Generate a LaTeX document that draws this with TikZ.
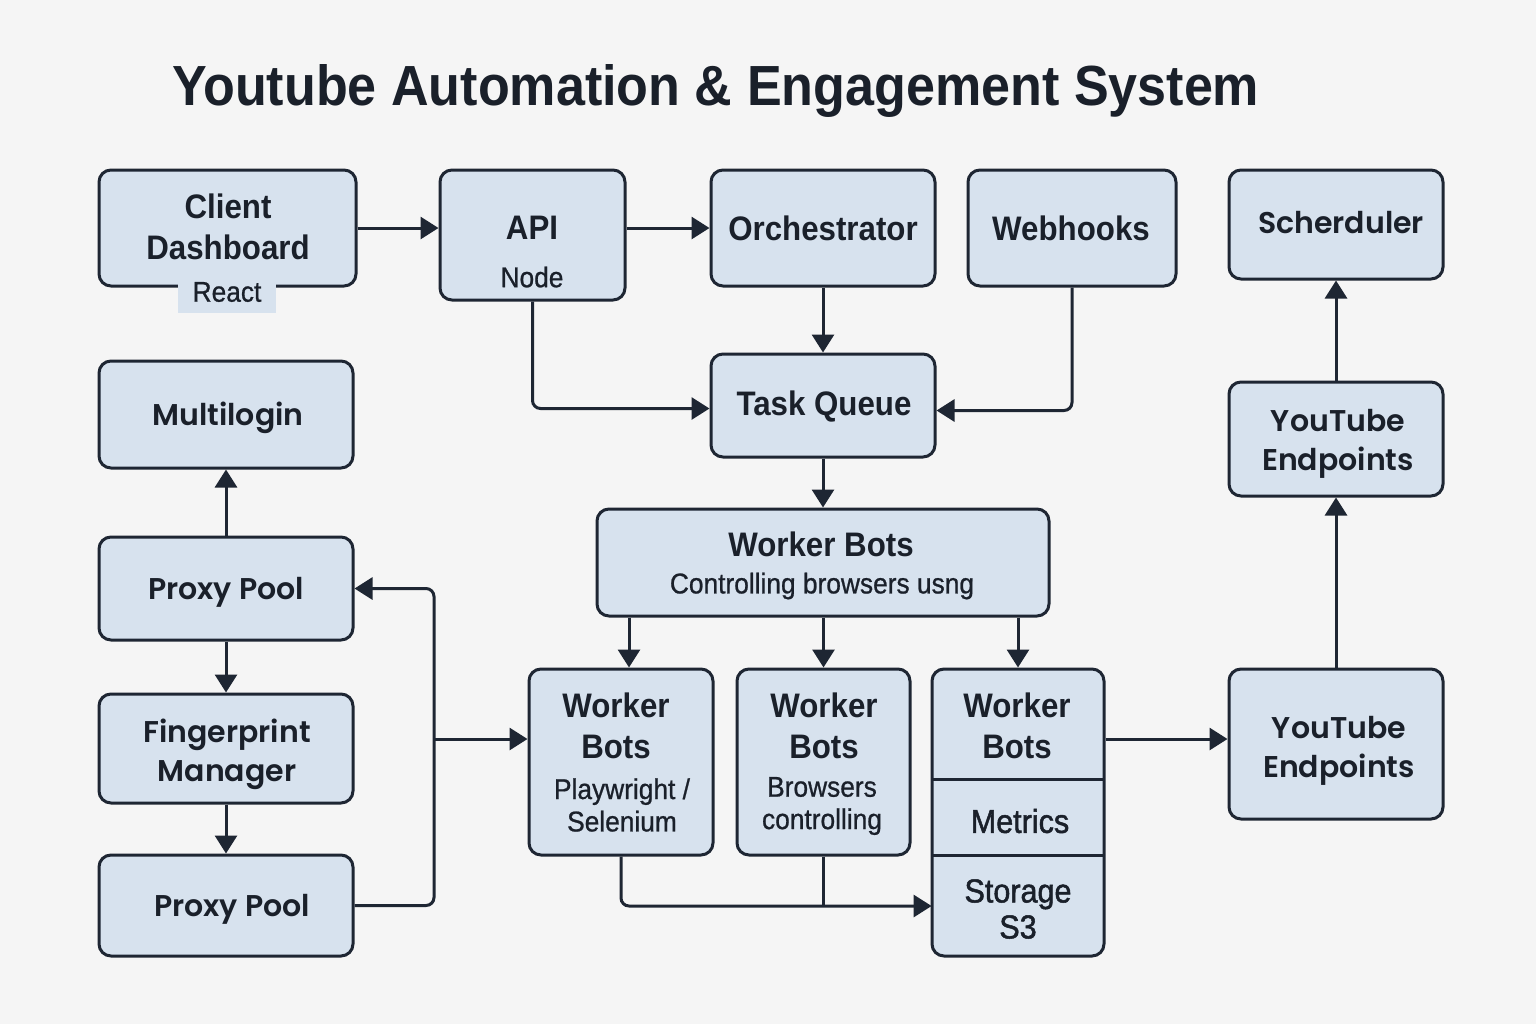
\documentclass[tikz,border=0pt]{standalone}
\usepackage{fontspec}
\usetikzlibrary{arrows.meta,fit,calc}
\newfontfamily\lib{Liberation Sans}[FakeStretch=0.92]
\newfontfamily\pop{Poppins}[BoldFont={Poppins SemiBold}]
\definecolor{bg}{HTML}{F5F5F5}
\definecolor{boxfill}{HTML}{D7E2EE}
\definecolor{edge}{HTML}{1E2633}
\definecolor{ink}{HTML}{1A202A}
\tikzset{
  box/.style={draw=edge, fill=boxfill, line width=1.5pt, rounded corners=6pt, inner sep=0pt},
  arr/.style={draw=edge, line width=1.5pt, -{Triangle[length=9pt,width=11pt]}, rounded corners=4pt},
  ln/.style={draw=edge, line width=1.5pt, rounded corners=4pt},
  lab/.style={font=\lib\bfseries\fontsize{17}{20.5}\selectfont, text=ink, align=center, inner sep=0pt},
  sub/.style={font=\lib\fontsize{14.3}{16.2}\selectfont\addfontfeature{FakeBold=0.8}, text=ink, align=center, inner sep=0pt},
  met/.style={font=\lib\fontsize{16.6}{18}\selectfont\addfontfeature{FakeBold=1.5}, text=ink, align=center, inner sep=0pt},
  plab/.style={font=\pop\bfseries\fontsize{15}{19.5}\selectfont, text=ink, align=center, inner sep=0pt},
}
\begin{document}
\begin{tikzpicture}[x=0.5pt,y=-0.5pt]
\fill[bg] (0,0) rectangle (1536,1024);
\useasboundingbox (0,0) rectangle (1536,1024);

% title
\node[font=\lib\bfseries\fontsize{28.3}{32}\selectfont, text=ink, inner sep=0pt, anchor=base west] (title) at (172,105) {Youtube Automation \& Engagement System};

% boxes
\node[box, fit={(99,170) (356,286)}] (client) {};
\node[fill=boxfill, inner sep=0pt, fit={(178,281) (276,313)}] (reacttab) {};
\node[box, fit={(440,170) (625,300)}] (api) {};
\node[box, fit={(711,170) (935,286)}] (orch) {};
\node[box, fit={(968,170) (1176,286)}] (web) {};
\node[box, fit={(1229,170) (1443,279)}] (sched) {};
\node[box, fit={(711,354) (935,457)}] (tq) {};
\node[box, fit={(597,509) (1049,616)}] (wbm) {};
\node[box, fit={(529,669) (713,855)}] (wb1) {};
\node[box, fit={(737,669) (910,855)}] (wb2) {};
\node[box, fit={(932,669) (1104,956)}] (wb3) {};
\node[inner sep=0pt, fit={(932,669) (1104,780)}] (wb3top) {};
\node[inner sep=0pt, fit={(932,780) (1104,856)}] (metrics) {};
\node[inner sep=0pt, fit={(932,856) (1104,956)}] (storage) {};
\draw[edge, line width=1.5pt] (metrics.north west) -- (metrics.north east);
\draw[edge, line width=1.5pt] (storage.north west) -- (storage.north east);
\node[box, fit={(1229,669) (1443,819)}] (yt2) {};
\node[box, fit={(1229,382) (1443,496)}] (yt1) {};
\node[box, fit={(99,361) (353,468)}] (ml) {};
\node[box, fit={(99,537) (353,640)}] (pp1) {};
\node[box, fit={(99,694) (353,803)}] (fm) {};
\node[box, fit={(99,855) (353,956)}] (pp2) {};

% texts
\node[lab] (tclient) at (228,227) {Client\\Dashboard};
\node[sub] (treact) at (227,292) {React};
\node[lab] (tapi) at (532,228) {API};
\node[sub] (tnode) at (532,277) {Node};
\node[lab] (torch) at (823,228) {Orchestrator};
\node[lab] (tweb) at (1071,228) {Webhooks};
\node[plab] (tsched) at (1341,223) {Scherduler};
\node[lab] (ttq) at (824,407) {Task Queue};
\node[lab] (twbm) at (821,544) {Worker Bots};
\node[sub] (twbms) at (822,586) {Controlling browsers usng};
\node[lab] (twb1) at (616,726) {Worker\\Bots};
\node[sub] (twb1s) at (622,805) {Playwright /\\Selenium};
\node[lab] (twb2) at (824,726) {Worker\\Bots};
\node[sub] (twb2s) at (822,806) {Browsers\\controlling};
\node[lab] (twb3) at (1017,726) {Worker\\Bots};
\node[met] (tmet) at (1020,821) {Metrics};
\node[met] (tsto) at (1018,909) {Storage\\S3};
\node[plab] (tyt2) at (1339,751) {YouTube\\Endpoints};
\node[plab] (tyt1) at (1338,444) {YouTube\\Endpoints};
\node[plab] (tml) at (228,418) {Multilogin};
\node[plab] (tpp1) at (226,592) {Proxy Pool};
\node[plab] (tfm) at (227,754) {Fingerprint\\Manager};
\node[plab] (tpp2) at (232,909) {Proxy Pool};

% connectors
\draw[arr] (client) -- (client -| api.west);
\draw[arr] (orch -| api.east) -- (orch.west);
\draw[arr] (orch) -- (tq);
\draw[arr] (api.south) |- ([yshift=-1.5pt]tq.west);
\draw[arr] (web.south) |- ([yshift=-2.5pt]tq.east);
\draw[arr] (tq) -- (tq |- wbm.north);
\draw[arr] ([xshift=4pt]wb1.north |- wbm.south) -- ([xshift=4pt]wb1.north);
\draw[arr] (wb2.north |- wbm.south) -- (wb2.north);
\draw[arr] (wb3.north |- wbm.south) -- (wb3.north);
\draw[arr] (wb1.south) |- (storage.west);
\draw[ln] (wb2.south) -- (wb2.south |- storage.west);
\draw[arr] ([yshift=2.5pt]yt2.west -| wb3.east) -- ([yshift=2.5pt]yt2.west);
\draw[arr] (yt2) -- (yt1);
\draw[arr] (yt1) -- (sched);
\draw[arr] (pp1) -- (ml);
\draw[arr] (pp1) -- (fm);
\draw[arr] (fm) -- (pp2);
\coordinate (jx) at (434,739);
\draw[arr] (pp2.east) -| (jx) |- (pp1.east);
\draw[arr] (jx) -- (jx -| wb1.west);
\end{tikzpicture}
\end{document}
